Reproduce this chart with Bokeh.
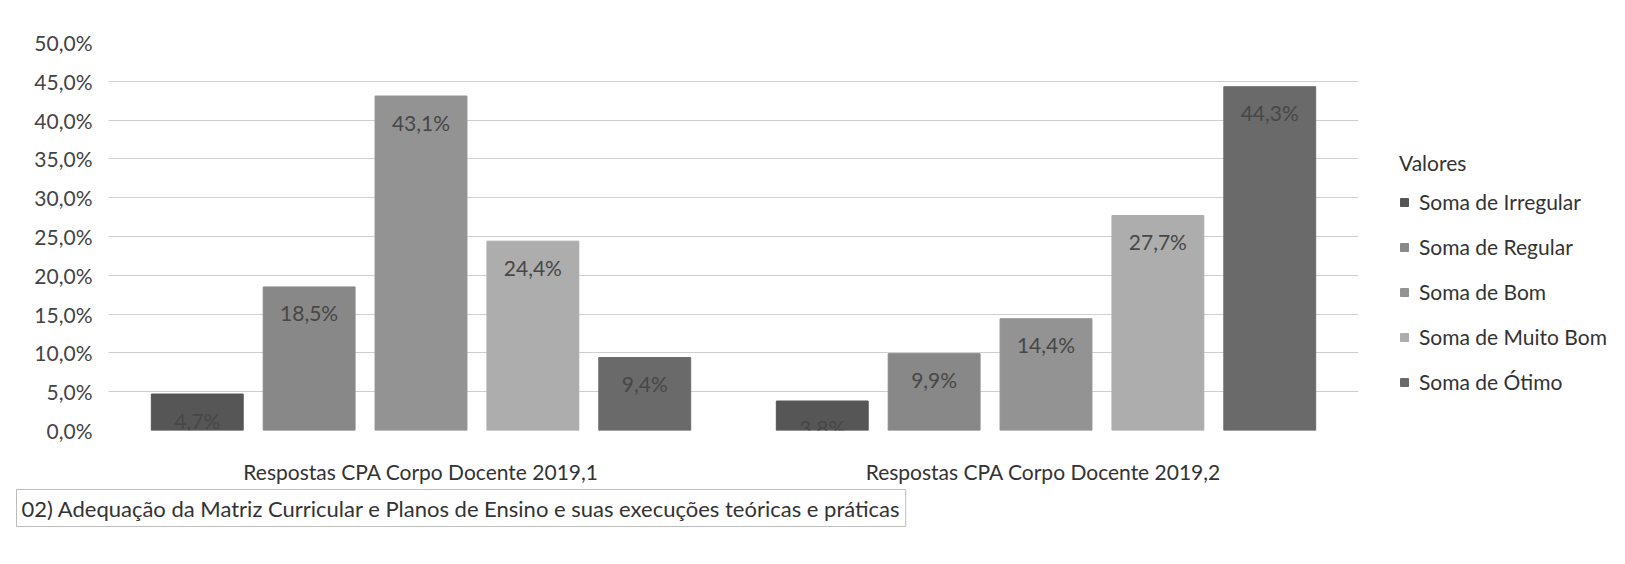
from bokeh.plotting import figure
from bokeh.models import (ColumnDataSource, FactorRange, Range1d, FixedTicker,
                          Legend, LegendItem, LabelSet, Title)
from bokeh.transform import dodge
from bokeh.core.properties import value
from bokeh.embed import file_html
from bokeh.resources import INLINE

# ---------------- data ----------------
categories = ["Respostas CPA Corpo Docente 2019,1", "Respostas CPA  Corpo Docente 2019,2"]
series_names = ["Soma de Irregular", "Soma de Regular", "Soma de Bom",
                "Soma de Muito Bom", "Soma de Ótimo"]
irregular = [4.7, 3.8]
regular = [18.5, 9.9]
bom = [43.1, 14.4]
muito_bom = [24.4, 27.7]
otimo = [9.4, 44.3]
y_ticks = [0, 5, 10, 15, 20, 25, 30, 35, 40, 45, 50]
y_tick_labels = ["0,0%", "5,0%", "10,0%", "15,0%", "20,0%", "25,0%",
                 "30,0%", "35,0%", "40,0%", "45,0%", "50,0%"]
legend_title = "Valores"
chart_caption = "02) Adequação da Matriz Curricular e Planos de Ensino e suas execuções teóricas e práticas"

# ---------------- styling ----------------
FONT = "Lato"
colors = ["#565656", "#888888", "#939393", "#adadad", "#6a6a6a"]
offsets = [-0.358, -0.179, 0.0, 0.179, 0.358]
bar_w = 0.147

series_cols = ["irregular", "regular", "bom", "muito_bom", "otimo"]
series_vals = [irregular, regular, bom, muito_bom, otimo]

data = {"cat": categories}
for col, vals in zip(series_cols, series_vals):
    data[col] = vals
    data[col + "_lbl"] = [f"{v:.1f}".replace(".", ",") + "%" for v in vals]
source = ColumnDataSource(data)

p = figure(x_range=FactorRange(*categories), y_range=Range1d(0, 50),
           frame_width=1250, frame_height=388,
           min_border_left=108, min_border_right=250,
           min_border_top=42, min_border_bottom=20,
           output_backend="svg", toolbar_location=None)
p.outline_line_color = None
p.background_fill_color = "white"
p.border_fill_color = "white"

renderers = []
for col, off, c in zip(series_cols, offsets, colors):
    r = p.vbar(x=dodge("cat", off, range=p.x_range), top=col, bottom=0,
               width=bar_w, source=source, fill_color=c, line_color=c)
    renderers.append(r)
    labels = LabelSet(x=dodge("cat", off, range=p.x_range), y=col,
                      text=col + "_lbl", source=source,
                      y_offset=-26, text_align="center", text_baseline="middle",
                      text_font=value(FONT), text_font_size="21px",
                      text_color="#474747")
    p.add_layout(labels)

# axes
p.yaxis.ticker = FixedTicker(ticks=y_ticks)
p.yaxis.major_label_overrides = {t: l for t, l in zip(y_ticks, y_tick_labels)}
p.yaxis.axis_line_color = None
p.yaxis.major_tick_line_color = None
p.yaxis.minor_tick_line_color = None
p.yaxis.major_label_standoff = 10
p.yaxis.major_label_text_font = FONT
p.yaxis.major_label_text_font_size = "21px"
p.yaxis.major_label_text_color = "#444444"

p.xaxis.axis_line_color = None
p.xaxis.major_tick_line_color = None
p.xaxis.minor_tick_line_color = None
p.xaxis.major_label_standoff = 22
p.xaxis.major_label_text_font = FONT
p.xaxis.major_label_text_font_size = "21px"
p.xaxis.major_label_text_color = "#333333"

p.xgrid.grid_line_color = None
p.ygrid.grid_line_color = "#cfcfcf"
p.ygrid.grid_line_width = 1

# caption box below the chart
cap = Title(text=chart_caption, align="left", offset=-92, standoff=2,
            text_font=FONT, text_font_size="22px", text_font_style="normal",
            text_color="#333333", border_line_color="#bdbdbd",
            background_fill_color="white", padding=5)
p.add_layout(cap, "below")

# legend
items = [LegendItem(label=n, renderers=[r]) for n, r in zip(series_names, renderers)]
legend = Legend(items=items, location=(41, 36), title=legend_title,
                title_text_font=FONT, title_text_font_size="21px",
                title_text_font_style="normal", title_text_color="#333333",
                title_standoff=14,
                label_text_font=FONT, label_text_font_size="21px",
                label_text_color="#333333",
                glyph_width=10, glyph_height=10, label_standoff=10,
                label_height=21, spacing=20, padding=0, margin=0,
                border_line_color=None, background_fill_alpha=0)
p.add_layout(legend, "right")

open("out.html", "w").write(file_html(p, INLINE))
